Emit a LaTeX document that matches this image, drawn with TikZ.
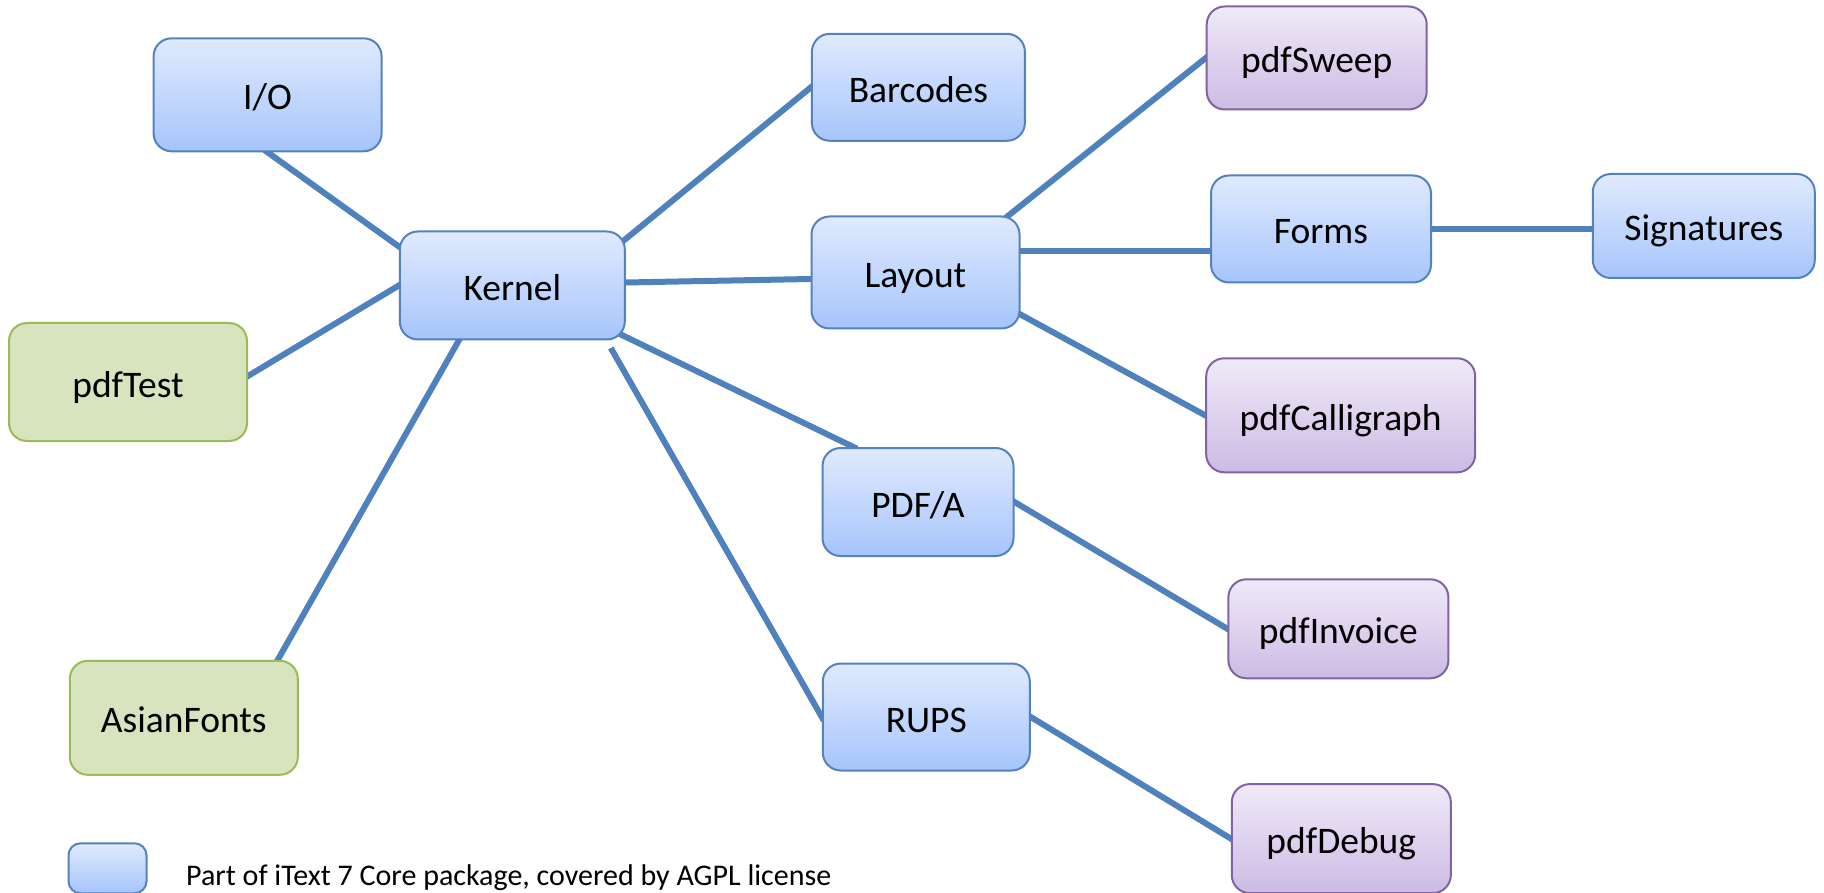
\documentclass[tikz,border=0pt]{standalone}
\usepackage{fontspec}
\setmainfont{Carlito}
\usetikzlibrary{calc,backgrounds}
\definecolor{linkblue}{RGB}{79,129,189}
\definecolor{bluetop}{RGB}{224,234,253}
\definecolor{bluebot}{RGB}{166,197,252}
\definecolor{blueedge}{RGB}{84,130,192}
\definecolor{greenfill}{RGB}{215,228,189}
\definecolor{greenedge}{RGB}{155,187,89}
\definecolor{purptop}{RGB}{240,234,248}
\definecolor{purpbot}{RGB}{204,187,228}
\definecolor{purpedge}{RGB}{128,100,162}
\tikzset{
  box/.style={rounded corners=18pt, line width=2pt, inner sep=0pt,
    font=\fontsize{37.5}{42}\selectfont, text height=31pt, text depth=1pt},
  corebox/.style={box, draw=blueedge, top color=bluetop, bottom color=bluebot},
  addbox/.style={box, draw=greenedge, fill=greenfill},
  purpbox/.style={box, draw=purpedge, top color=purptop, bottom color=purpbot},
  link/.style={draw=linkblue, line width=6pt, shorten <=-4pt, shorten >=-4pt}
}
\begin{document}
\begin{tikzpicture}[x=1pt,y=-1pt]
\useasboundingbox (0,0) rectangle (1824,893);
\node[corebox, minimum width=228pt, minimum height=113pt] (io) at (267.6,94.8) {I/O};
\node[corebox, minimum width=225pt, minimum height=108pt] (kernel) at (512.3,285.5) {Kernel};
\node[addbox, minimum width=238pt, minimum height=118pt] (pdftest) at (128,382) {pdfTest};
\node[addbox, minimum width=228pt, minimum height=114pt] (asian) at (183.8,717.8) {AsianFonts};
\node[corebox, minimum width=213pt, minimum height=107pt] (barcodes) at (918.4,87.3) {Barcodes};
\node[corebox, minimum width=208pt, minimum height=112pt] (layout) at (915.5,272.5) {Layout};
\node[corebox, minimum width=191pt, minimum height=108pt] (pdfa) at (918,502) {PDF/A};
\node[corebox, minimum width=207pt, minimum height=107pt] (rups) at (926.3,717) {RUPS};
\node[purpbox, minimum width=220pt, minimum height=103pt] (sweep) at (1316.7,58) {pdfSweep};
\node[corebox, minimum width=220pt, minimum height=107pt] (forms) at (1321,229) {Forms};
\node[corebox, minimum width=222pt, minimum height=104pt] (sig) at (1703.8,226) {Signatures};
\node[purpbox, minimum width=269pt, minimum height=114pt] (calli) at (1340.7,415.3) {pdfCalligraph};
\node[purpbox, minimum width=220pt, minimum height=99pt] (invoice) at (1338.4,628.8) {pdfInvoice};
\node[purpbox, minimum width=219pt, minimum height=109pt] (debug) at (1341.3,838.6) {pdfDebug};
\node[corebox, rounded corners=12pt, minimum width=78pt, minimum height=50pt] (legendbox) at (107.5,868.3) {};
\node[anchor=base west, inner sep=0pt, font=\fontsize{30}{34}\selectfont] (legendtext) at (186,885) {Part of iText 7 Core package, covered by AGPL license};
\begin{pgfonlayer}{background}
\draw[link] (io.south) -- ($(kernel.north west)+(0,16)$);
\draw[link] ($(pdftest.east)+(0,-6)$) -- (kernel.west);
\draw[link] ($(asian.north east)+(-21,0)$) -- ($(kernel.south west)+(60,0)$);
\draw[link] ($(kernel.north east)+(-2,10)$) -- (barcodes.west);
\draw[link] ($(kernel.east)+(0,-3)$) -- ($(layout.west)+(0,6.5)$);
\draw[link] ($(kernel.south east)+(-5,-6)$) -- ($(pdfa.north west)+(32,0)$);
\draw[link, shorten <=0pt] ($(kernel.south east)+(-15,7.5)$) -- (rups.west);
\draw[link] ($(layout.north east)+(-12,0)$) -- (sweep.west);
\coordinate (lf) at ($(layout.east)+(0,-21)$);
\draw[link] (lf) -- (lf -| forms.west);
\draw[link] (forms.east) -- (forms.east -| sig.west);
\draw[link] ($(layout.south east)+(0,-15)$) -- (calli.west);
\draw[link] (pdfa.east) -- (invoice.west);
\draw[link] (rups.east) -- (debug.west);
\end{pgfonlayer}
\end{tikzpicture}
\end{document}
